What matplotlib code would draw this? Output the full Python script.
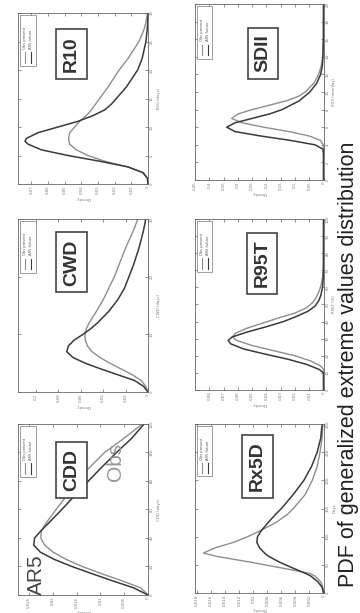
import numpy as np
import matplotlib.pyplot as plt
from matplotlib.patches import Rectangle
from matplotlib.ticker import FormatStrFormatter

# values (x = index value, d = probability density)
cdd_x = [0, 5, 10, 15, 20, 25, 30, 35, 40, 45, 50, 60, 70, 80, 90, 100, 110, 120]
cdd_ar5 = [0, 0.003, 0.0075, 0.0118, 0.016, 0.0197, 0.0226, 0.024, 0.0238, 0.0225, 0.021,
           0.0181, 0.0153, 0.0125, 0.0096, 0.0066, 0.0034, 0.0008]
cdd_obs = [0, 0.0015, 0.0055, 0.0098, 0.0138, 0.0172, 0.0199, 0.0217, 0.0225, 0.0224, 0.0215,
           0.0193, 0.017, 0.015, 0.0121, 0.0091, 0.005, 0.0012]

cwd_x = [0, 1, 2, 3, 4, 5, 6, 7, 8, 9, 10, 11, 12, 14, 16, 18, 20, 22, 25, 28, 30]
cwd_ar5 = [0, 0.004, 0.012, 0.027, 0.042, 0.056, 0.067, 0.0725, 0.071, 0.066, 0.058, 0.051,
           0.045, 0.035, 0.027, 0.021, 0.017, 0.013, 0.008, 0.004, 0.002]
cwd_obs = [0, 0.002, 0.006, 0.014, 0.024, 0.034, 0.043, 0.05, 0.054, 0.056, 0.0562, 0.055,
           0.0525, 0.046, 0.04, 0.035, 0.03, 0.026, 0.02, 0.013, 0.009]

r10_x = [0, 1, 2, 3, 4, 5, 6, 7, 7.5, 8, 9, 10, 11, 12, 13, 14, 15, 17, 20, 22, 25, 27, 28, 30]
r10_ar5 = [0, 0.0003, 0.003, 0.012, 0.029, 0.048, 0.064, 0.072, 0.0738, 0.073, 0.066, 0.054,
           0.042, 0.033, 0.026, 0.022, 0.019, 0.013, 0.0062, 0.0035, 0.0012, 0.0005, 0.0002, 0]
r10_obs = [0, 0.0003, 0.003, 0.012, 0.026, 0.036, 0.043, 0.047, 0.0474, 0.0476, 0.047, 0.044,
           0.041, 0.037, 0.034, 0.0315, 0.029, 0.024, 0.0173, 0.012, 0.0054, 0.0025, 0.0015, 0.0002]

rx5d_x = [0, 10, 20, 30, 35, 45, 55, 65, 71, 80, 90, 100, 110, 125, 140, 150, 175, 200, 225,
          250, 275, 300]
rx5d_ar5 = [0, 0.0002, 0.0008, 0.0018, 0.0026, 0.0045, 0.0063, 0.0078, 0.0084, 0.0091, 0.0095,
            0.0094, 0.0089, 0.0079, 0.0068, 0.006, 0.0043, 0.0028, 0.0017, 0.0009, 0.0004, 0.0002]
rx5d_obs = [0, 0.0001, 0.0004, 0.0012, 0.002, 0.0062, 0.0105, 0.0152, 0.0171, 0.0155, 0.0128,
            0.0108, 0.0091, 0.0068, 0.0051, 0.0043, 0.0026, 0.0016, 0.0009, 0.0005, 0.0002, 0.0001]

r95t_x_ar5 = [0, 10, 12, 15, 18, 21, 24, 27, 29, 31, 34, 37, 40, 43, 46, 49, 52, 55, 60, 65, 70, 100]
r95t_ar5 = [0, 0, 0.003, 0.012, 0.025, 0.041, 0.056, 0.065, 0.0668, 0.064, 0.053, 0.04, 0.028,
            0.019, 0.011, 0.006, 0.0035, 0.002, 0.0007, 0.0002, 0, 0]
r95t_x_obs = [0, 12, 14, 17, 20, 23, 26, 29, 31, 33, 36, 39, 42, 45, 48, 51, 54, 58, 62, 66, 70, 75, 100]
r95t_obs = [0, 0, 0.002, 0.009, 0.02, 0.035, 0.05, 0.061, 0.0637, 0.062, 0.054, 0.043, 0.032,
            0.02, 0.012, 0.0078, 0.0052, 0.003, 0.0015, 0.0007, 0.0003, 0.0001, 0]

sdii_x_ar5 = [0, 3, 3.5, 4, 4.5, 5, 5.5, 6, 6.5, 7, 7.5, 8, 9, 10, 11, 12, 13, 14, 16, 20]
sdii_ar5 = [0, 0, 0.002, 0.03, 0.116, 0.22, 0.31, 0.339, 0.31, 0.25, 0.19, 0.145, 0.085, 0.048,
            0.024, 0.01, 0.004, 0.002, 0.0003, 0]
sdii_x_obs = [0, 3, 4, 4.5, 5, 5.5, 6, 6.5, 7, 7.5, 8, 8.5, 9, 9.5, 10, 11, 12, 13, 14, 16, 20]
sdii_obs = [0, 0, 0.001, 0.011, 0.05, 0.12, 0.21, 0.285, 0.322, 0.3, 0.25, 0.19, 0.13, 0.088,
            0.064, 0.034, 0.017, 0.008, 0.003, 0.0005, 0]

legend_labels = ['Obs present', 'AR5 future']
title = 'PDF of generalized extreme values distribution'

AR5_COLOR = '#3a3a3a'
OBS_COLOR = '#8e8e8e'
FRAME = '#666666'


def draw_panel(ax, x_ar5, d_ar5, x_obs, d_obs, xticks, dticks, dmax, name, xlabel, box_pos):
    # the whole figure is turned by 90 degrees: x runs upwards, density runs to the left
    ax.plot(d_obs, x_obs, color=OBS_COLOR, lw=1.0)
    ax.plot(d_ar5, x_ar5, color=AR5_COLOR, lw=1.1)
    ax.set_ylim(xticks[0], xticks[-1])
    ax.set_xlim(dmax, 0)
    ax.set_yticks(xticks)
    ax.set_xticks(dticks)
    ax.xaxis.set_major_formatter(FormatStrFormatter('%g'))
    ax.yaxis.set_major_formatter(FormatStrFormatter('%g'))
    ax.tick_params(axis='y', left=True, right=True, labelleft=False, labelright=True,
                   direction='in', length=2, width=0.5, color=FRAME, labelsize=2.8,
                   labelcolor='#777777', labelrotation=90, pad=1.5)
    ax.tick_params(axis='x', top=True, bottom=True, direction='in', length=2, width=0.5,
                   color=FRAME, labelsize=2.8, labelcolor='#777777', labelrotation=90, pad=1.2)
    for lab in ax.get_yticklabels():
        lab.set_verticalalignment('center')
    ax.yaxis.set_label_position('right')
    ax.set_ylabel(xlabel, rotation=90, fontsize=2.8, color='#777777', labelpad=2)
    ax.set_xlabel('Density', rotation=180, fontsize=2.8, color='#777777', labelpad=0.8)
    for s in ax.spines.values():
        s.set_color(FRAME)
        s.set_linewidth(0.6)

    # boxed index name
    ax.text(box_pos[0], box_pos[1], name, transform=ax.transAxes, rotation=90,
            ha='center', va='center', fontsize=14, fontweight='bold', color='#333333',
            family='Liberation Sans',
            bbox=dict(boxstyle='square,pad=0.35', fc='white', ec='#444444', lw=1.2))

    # small legend in the upper-left corner (original upper-right)
    lx0, lx1, ly0, ly1 = 0.016, 0.135, 0.69, 0.99
    ax.add_patch(Rectangle((lx0, ly0), lx1 - lx0, ly1 - ly0, transform=ax.transAxes,
                           fc='white', ec='#777777', lw=0.5, zorder=5))
    for i, (lab, col) in enumerate(zip(legend_labels, [OBS_COLOR, AR5_COLOR])):
        cx = lx0 + (lx1 - lx0) * (0.33 + 0.36 * i)
        ax.plot([cx, cx], [ly0 + 0.02, ly0 + 0.08], transform=ax.transAxes,
                color=col, lw=0.8, zorder=6)
        ax.text(cx, ly0 + 0.1, lab, transform=ax.transAxes, rotation=90, ha='center',
                va='bottom', fontsize=2.6, color='#555555', zorder=6)


def main():
    fig = plt.figure(figsize=(3.6, 6.13), dpi=100)

    ax_r10 = fig.add_axes([0.05, 0.6998, 0.361, 0.279])
    ax_cwd = fig.add_axes([0.05, 0.3605, 0.361, 0.282])
    ax_cdd = fig.add_axes([0.05, 0.0294, 0.361, 0.279])
    ax_sdii = fig.add_axes([0.5417, 0.7064, 0.357, 0.287])
    ax_r95 = fig.add_axes([0.5417, 0.3638, 0.357, 0.279])
    ax_rx5 = fig.add_axes([0.5417, 0.0326, 0.357, 0.2757])

    draw_panel(ax_cdd, cdd_x, cdd_ar5, cdd_x, cdd_obs, list(range(0, 121, 20)),
               [0, 0.005, 0.01, 0.015, 0.02, 0.025], 0.0273, 'CDD', 'CDD (days)', (0.41, 0.73))
    draw_panel(ax_cwd, cwd_x, cwd_ar5, cwd_x, cwd_obs, [0, 10, 20, 30],
               [0, 0.02, 0.04, 0.06, 0.08, 0.1], 0.116, 'CWD', 'CWD (days)', (0.41, 0.75))
    draw_panel(ax_r10, r10_x, r10_ar5, r10_x, r10_obs, list(range(0, 31, 5)),
               [0, 0.01, 0.02, 0.03, 0.04, 0.05, 0.06, 0.07], 0.078, 'R10', 'R10 (days)',
               (0.41, 0.76))
    draw_panel(ax_rx5, rx5d_x, rx5d_ar5, rx5d_x, rx5d_obs, list(range(0, 301, 50)),
               [0, 0.002, 0.004, 0.006, 0.008, 0.01, 0.012, 0.014, 0.016, 0.018], 0.0183,
               'Rx5D', 'Days', (0.485, 0.75))
    draw_panel(ax_r95, r95t_x_ar5, r95t_ar5, r95t_x_obs, r95t_obs, list(range(0, 101, 10)),
               [0, 0.01, 0.02, 0.03, 0.04, 0.05, 0.06, 0.07, 0.08], 0.09, 'R95T', 'R95T (%)',
               (0.52, 0.74))
    draw_panel(ax_sdii, sdii_x_ar5, sdii_ar5, sdii_x_obs, sdii_obs, list(range(0, 21, 2)),
               [0, 0.05, 0.1, 0.15, 0.2, 0.25, 0.3, 0.35, 0.4, 0.45], 0.45, 'SDII',
               'SDII (mm/day)', (0.53, 0.72))

    # model / observation tags written into the CDD panel
    ax_cdd.text(0.14, 0.12, 'AR5', transform=ax_cdd.transAxes, rotation=90, ha='center',
                va='center', fontsize=15, color='#444444', family='Liberation Sans')
    ax_cdd.text(0.75, 0.78, 'Obs', transform=ax_cdd.transAxes, rotation=90, ha='center',
                va='center', fontsize=15, color='#999999', family='Liberation Sans')

    fig.text(0.968, 0.405, title, rotation=90, ha='center', va='center', fontsize=15.5,
             color='#222222', family='Liberation Sans')

    fig.savefig('out.png', dpi=100)


if __name__ == '__main__':
    main()
